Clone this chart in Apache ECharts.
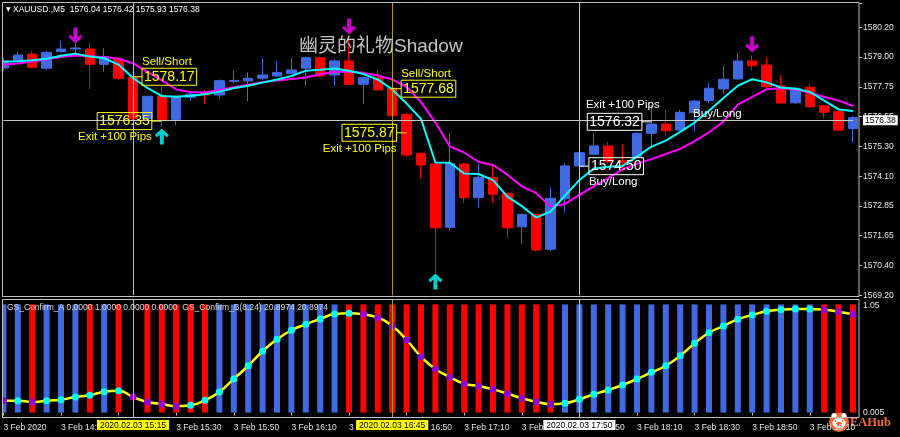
<!DOCTYPE html>
<html><head><meta charset="utf-8">
<style>html,body{margin:0;padding:0;background:#000}#c{width:900px;height:437px}</style>
<script src="https://cdn.jsdelivr.net/npm/echarts@6/dist/echarts.min.js"></script>
</head><body><div id="c"></div>
<script>
// ---------- data ----------
const times = ['14:30','14:35','14:40','14:45','14:50','14:55','15:00','15:05','15:10','15:15',
  '15:20','15:25','15:30','15:35','15:40','15:45','15:50','15:55','16:00','16:05',
  '16:10','16:15','16:20','16:25','16:30','16:35','16:40','16:45','16:50','16:55',
  '17:00','17:05','17:10','17:15','17:20','17:25','17:30','17:35','17:40','17:45',
  '17:50','17:55','18:00','18:05','18:10','18:15','18:20','18:25','18:30','18:35',
  '18:40','18:45','18:50','18:55','19:00','19:05','19:10','19:15','19:20','19:25'];
const dateStr = '2020.02.03';
const xTickLabels = ['3 Feb 2020','3 Feb 14:50','3 Feb 15:10','3 Feb 15:30','3 Feb 15:50','3 Feb 16:10',
  '3 Feb 16:30','3 Feb 16:50','3 Feb 17:10','3 Feb 17:30','3 Feb 17:50','3 Feb 18:10','3 Feb 18:30',
  '3 Feb 18:50','3 Feb 19:10'];
const priceTickLabels = ['1569.20','1570.40','1571.65','1572.85','1574.10','1575.30','1576.55','1577.75','1579.00','1580.20'];
const candleOpen = [1578.53,1578.82,1579.10,1578.52,1579.20,1579.31,1579.31,1578.68,1578.89,1578.15,
  1576.46,1577.37,1576.42,1577.33,1577.47,1577.42,1577.98,1578.00,1578.11,1578.20,
  1578.31,1578.52,1578.95,1578.24,1578.82,1577.86,1578.13,1577.70,1576.63,1575.03,
  1574.59,1571.99,1574.59,1573.21,1574.04,1573.39,1572.01,1572.52,1571.09,1573.16,
  1574.51,1574.99,1575.33,1574.72,1574.89,1575.85,1576.23,1575.98,1576.69,1577.19,
  1577.67,1578.08,1578.82,1578.65,1577.79,1577.10,1577.74,1576.98,1576.74,1576.04];
const candleClose = [1578.82,1579.06,1578.56,1579.17,1579.31,1579.35,1578.68,1579.00,1578.11,1576.45,
  1577.37,1576.42,1577.35,1577.46,1577.43,1578.01,1578.02,1578.11,1578.24,1578.34,
  1578.45,1578.95,1578.20,1578.82,1577.86,1578.13,1577.63,1576.57,1574.96,1574.55,
  1571.97,1574.61,1573.21,1574.04,1573.35,1571.97,1572.52,1571.06,1573.18,1574.51,
  1575.05,1575.33,1574.68,1574.66,1575.85,1576.23,1575.95,1576.71,1577.17,1577.70,
  1578.07,1578.82,1578.62,1577.76,1577.10,1577.70,1576.94,1576.71,1575.98,1576.50];
const candleLow = [1578.40,1578.73,1578.52,1578.45,1579.16,1579.13,1577.67,1578.38,1578.05,1576.40,
  1576.40,1576.12,1576.19,1577.20,1577.05,1577.25,1577.90,1577.17,1578.04,1578.15,
  1578.28,1577.79,1578.15,1577.79,1577.83,1577.05,1577.60,1576.55,1574.90,1574.00,
  1570.10,1571.85,1572.98,1572.81,1573.00,1571.54,1571.33,1571.00,1571.02,1572.61,
  1574.45,1574.95,1574.60,1574.30,1574.85,1575.30,1575.71,1575.95,1575.92,1577.10,
  1577.49,1578.05,1578.42,1577.70,1577.05,1577.05,1576.90,1576.47,1575.95,1575.46];
const candleHigh = [1578.95,1579.20,1579.24,1579.24,1579.65,1579.54,1579.57,1579.34,1578.97,1578.20,
  1577.40,1577.76,1577.40,1577.55,1577.63,1578.05,1578.42,1578.34,1578.93,1578.82,
  1578.93,1579.00,1579.00,1578.88,1579.70,1578.18,1578.45,1577.72,1576.66,1575.06,
  1574.65,1575.85,1574.62,1574.60,1574.62,1573.42,1572.55,1572.55,1573.63,1574.60,
  1575.10,1575.85,1575.50,1575.40,1575.90,1577.01,1576.81,1576.81,1577.22,1577.90,
  1578.62,1579.13,1579.05,1578.97,1578.24,1577.75,1577.90,1577.02,1576.78,1576.56];
const maFast = [1578.79,1578.81,1578.85,1578.91,1579.03,1579.12,1579.00,1578.93,1578.67,1578.12,
  1577.71,1577.38,1577.35,1577.39,1577.45,1577.56,1577.70,1577.80,1577.93,1578.06,
  1578.20,1578.42,1578.46,1578.51,1578.42,1578.28,1578.06,1577.65,1577.07,1576.44,
  1574.65,1574.64,1574.20,1574.18,1573.93,1573.25,1572.86,1572.39,1572.64,1573.29,
  1573.93,1574.40,1574.48,1574.51,1574.89,1575.30,1575.55,1575.91,1576.29,1576.78,
  1577.30,1577.80,1578.07,1577.94,1577.73,1577.68,1577.55,1577.19,1576.83,1576.76];
const maSlow = [1578.66,1578.71,1578.80,1578.89,1578.98,1579.04,1579.02,1578.97,1578.91,1578.72,
  1578.37,1578.02,1577.65,1577.54,1577.52,1577.63,1577.74,1577.84,1577.95,1578.02,
  1578.08,1578.14,1578.27,1578.38,1578.38,1578.33,1578.22,1578.06,1577.75,1577.13,
  1576.29,1575.31,1575.06,1574.67,1574.55,1574.15,1573.67,1573.39,1572.84,1572.95,
  1573.32,1573.67,1574.01,1574.38,1574.60,1574.79,1575.00,1575.21,1575.53,1575.89,
  1576.33,1577.03,1577.34,1577.66,1577.70,1577.65,1577.52,1577.34,1577.19,1576.97];
const lastPrice = 1576.38;
const headerOHLC = ['1576.04','1576.42','1575.93','1576.38'];
// trade signals
const sellEntryIdx = [9, 27];  const sellEntryPrice = [1578.17, 1577.68];
const sellExitIdx = [11, 28];  const sellExitPrice = [1576.35, 1575.87];
const buyEntryIdx = [40];      const buyEntryPrice = [1574.50];
const buyExitIdx = [45];       const buyExitPrice = [1576.32];
const buyTextIdx = [48];       const buyTextPrice = [1576.64];
const downArrowIdx = [5, 24, 52]; const downArrowPrice = [1579.86, 1580.23, 1579.49];
const upArrowIdx = [11, 30];      const upArrowPrice = [1575.72, 1569.77];
const vlineIdx = [9, 27, 40];
// indicator: GS_Confirm_A histogram (1 blue, -1 red, 0 none) and GS_Confirm_B line
const histState = [1,1,-1,1,1,1,-1,1,-1,0,
  -1,-1,-1,-1,-1,1,1,1,1,1,
  1,1,1,1,-1,-1,-1,-1,-1,-1,
  -1,-1,-1,-1,-1,-1,-1,-1,-1,1,
  1,1,1,1,1,1,1,1,1,1,
  1,1,1,1,1,1,1,-1,-1,-1];
const confirmB = [0.110,0.110,0.098,0.110,0.119,0.144,0.160,0.193,0.202,0.144,
  0.098,0.079,0.058,0.067,0.114,0.190,0.311,0.433,0.567,0.677,
  0.761,0.816,0.865,0.911,0.918,0.908,0.877,0.800,0.671,0.517,
  0.403,0.329,0.267,0.246,0.215,0.175,0.132,0.101,0.077,0.086,
  0.123,0.169,0.209,0.255,0.311,0.372,0.433,0.526,0.640,0.738,
  0.800,0.862,0.902,0.936,0.951,0.957,0.957,0.951,0.933,0.909];
const confirmDir = [0,1,0,1,1,1,1,1,1,0,
  0,0,0,1,1,1,1,1,1,1,
  1,1,1,1,1,0,0,0,0,0,
  0,0,0,0,0,0,0,0,0,1,
  1,1,1,1,1,1,1,1,1,1,
  1,1,1,1,1,1,1,0,0,0];

// ---------- chart ----------
const FONT = '"Liberation Sans", Arial, sans-serif';
const BLUE = '#4169e1', RED = '#ff0000';
const YMIN = 1569.2, YMAX = 1581.2, YINT = 11 / 9;
const candleData = candleOpen.map((o, i) => [o, candleClose[i], candleLow[i], candleHigh[i]]);

const annoData = [].concat(
  sellEntryIdx.map((ix, k) => [ix, sellEntryPrice[k], 0]),
  sellExitIdx.map((ix, k) => [ix, sellExitPrice[k], 1]),
  buyEntryIdx.map((ix, k) => [ix, buyEntryPrice[k], 2]),
  buyExitIdx.map((ix, k) => [ix, buyExitPrice[k], 3]),
  buyTextIdx.map((ix, k) => [ix, buyTextPrice[k], 4])
);

function renderAnno(params, api) {
  const kind = api.value(2), price = api.value(1);
  const p = api.coord([api.value(0), price]);
  const col = kind < 2 ? '#ffff00' : '#ffffff';
  const txt = price.toFixed(2);
  const small = '11.5px ' + FONT, big = '14px ' + FONT;
  const box = (x, align) => ({type: 'text', style: {text: txt, x: x, y: p[1], align: align, verticalAlign: 'middle',
    fill: col, font: big, borderColor: col, borderWidth: 1, padding: [1, 2, 0, 2], lineHeight: 16}});
  const seg = (x1, x2) => ({type: 'line', shape: {x1: x1, y1: p[1], x2: x2, y2: p[1]}, style: {stroke: col, lineWidth: 1}});
  const lab = (t, x, y, align) => ({type: 'text', style: {text: t, x: x, y: y, align: align, verticalAlign: 'middle', fill: col, font: small}});
  let ch = [];
  if (kind === 0) ch = [seg(p[0], p[0] + 9), box(p[0] + 9, 'left'), lab('Sell/Short', p[0] + 9, p[1] - 15, 'left')];
  else if (kind === 1) ch = [seg(p[0] - 10, p[0]), box(p[0] - 10, 'right'), lab('Exit +100 Pips', p[0] - 10, p[1] + 16, 'right')];
  else if (kind === 2) ch = [seg(p[0], p[0] + 9.5), box(p[0] + 9.5, 'left'), lab('Buy/Long', p[0] + 9.5, p[1] + 15.5, 'left')];
  else if (kind === 3) ch = [seg(p[0] - 9.5, p[0]), box(p[0] - 9.5, 'right'), lab('Exit +100 Pips', p[0] - 65.5, p[1] - 17, 'left')];
  else ch = [lab('Buy/Long', p[0] - 1.5, p[1], 'left')];
  return {type: 'group', children: ch};
}

const vColors = ['#d6d600', '#b09c00', '#c8c8c8'];
const vBoxBg = ['#ffff00', '#ffff00', '#ffffff'];
// grid spans first..last bar centre (category axis without boundary gap)
const GL = 3.4, GR = 900 - 853;

const option = {
  backgroundColor: '#000000',
  animation: false,
  title: [
    {left: 6, top: 5, padding: 0, text: '{tri|▼} XAUUSD.,M5  ' + headerOHLC.join(' '),
      textStyle: {color: '#ffffff', fontSize: 8.5, fontWeight: 'normal', fontFamily: FONT,
        rich: {tri: {fontFamily: '"DejaVu Sans"', fontSize: 6, color: '#ffffff'}}}},
    {left: 7, top: 303, padding: 0, text: 'GS_Confirm_A 0.0000 1.0000 0.0000 0.0000  GS_Confirm_B(8,24) 20.8974 20.8974',
      textStyle: {color: '#dcdcdc', fontSize: 8.5, fontWeight: 'normal', fontFamily: FONT}},
    {left: 299, top: 37, padding: 0, text: '幽灵的礼物Shadow',
      textStyle: {color: '#c4c4c4', fontSize: 19, fontWeight: 'normal', fontFamily: '"Liberation Sans","Noto Sans CJK SC",sans-serif'}}
  ],
  grid: [
    {left: GL, right: GR, top: 2.94, bottom: 437 - 295.3},
    {left: GL, right: GR, top: 299, bottom: 19}
  ],
  xAxis: [
    {type: 'category', gridIndex: 0, data: times, boundaryGap: false,
      axisLine: {show: false}, axisTick: {show: false}, axisLabel: {show: false}, splitLine: {show: false}},
    {type: 'category', gridIndex: 1, data: times, boundaryGap: false,
      axisLine: {show: false},
      axisTick: {show: true, interval: 3, length: 3, lineStyle: {color: '#c0c0c0'}},
      axisLabel: {interval: 3, align: 'left', margin: 5, color: '#e6e6e6', fontSize: 8.5, fontFamily: FONT,
        formatter: (v, idx) => xTickLabels[Math.round(idx / 4)] || ''},
      splitLine: {show: false}}
  ],
  yAxis: [
    {type: 'value', gridIndex: 0, position: 'right', offset: 6, min: YMIN, max: YMAX, interval: YINT,
      axisLine: {show: false}, splitLine: {show: false},
      axisTick: {show: true, length: 3, lineStyle: {color: '#c0c0c0'}},
      axisLabel: {margin: 4, color: '#e6e6e6', fontSize: 8.5, fontFamily: FONT,
        formatter: v => {
          const k = Math.round((v - YMIN) / YINT);
          if (k < 0 || k > 9 || Math.abs(v - (YMIN + k * YINT)) > 1e-3) return '';
          return priceTickLabels[k];
        }}},
    {type: 'value', gridIndex: 1, position: 'right', offset: 6, min: -0.05, max: 1.05, interval: 1.1,
      axisLine: {show: false}, splitLine: {show: false},
      axisTick: {show: false},
      axisLabel: {margin: 4, color: '#e6e6e6', fontSize: 8.5, fontFamily: FONT,
        formatter: v => v > 0.5 ? '{hi|1.05}' : '{lo|0.005}',
        rich: {hi: {padding: [13, 0, 0, 0], fontSize: 8.5, fontFamily: FONT, color: '#e6e6e6'},
               lo: {padding: [0, 0, 11, 0], fontSize: 8.5, fontFamily: FONT, color: '#e6e6e6'}}}}
  ],
  series: [
    {type: 'candlestick', xAxisIndex: 0, yAxisIndex: 0, data: candleData, barWidth: 10, z: 2, clip: false,
      itemStyle: {color: BLUE, color0: RED, borderColor: BLUE, borderColor0: RED, borderWidth: 1},
      markLine: {silent: true, symbol: ['none', 'none'], animation: false,
        data: [
          {yAxis: lastPrice, lineStyle: {color: '#c8c8c8', width: 1, type: 'solid'},
            label: {show: true, position: 'end', distance: 10, formatter: lastPrice.toFixed(2),
              backgroundColor: '#ffffff', color: '#000000', padding: [1, 2, 0, 2], fontSize: 8.5, fontFamily: FONT}}
        ].concat(vlineIdx.map((ix, k) => ({xAxis: times[ix], lineStyle: {color: vColors[k], width: 1, type: 'solid'}, label: {show: false}})))
      }},
    {type: 'line', xAxisIndex: 0, yAxisIndex: 0, data: maSlow, symbol: 'none', z: 3,
      lineStyle: {color: '#ff00ff', width: 2}},
    {type: 'line', xAxisIndex: 0, yAxisIndex: 0, data: maFast, symbol: 'none', z: 4,
      lineStyle: {color: '#00ffff', width: 2}},
    {type: 'scatter', xAxisIndex: 0, yAxisIndex: 0, z: 5,
      symbol: 'path://M5,0 L9,0 L9,10 L12,7 L14,9.5 L7,16 L0,9.5 L2,7 L5,10 Z', symbolSize: [14, 16],
      itemStyle: {color: '#ff00ff'},
      data: downArrowIdx.map((ix, k) => [ix, downArrowPrice[k]])},
    {type: 'scatter', xAxisIndex: 0, yAxisIndex: 0, z: 5,
      symbol: 'path://M5,16 L9,16 L9,6 L12,9 L14,6.5 L7,0 L0,6.5 L2,9 L5,6 Z', symbolSize: [14, 16],
      itemStyle: {color: '#00ffff'},
      data: upArrowIdx.map((ix, k) => [ix, upArrowPrice[k]])},
    {type: 'custom', xAxisIndex: 0, yAxisIndex: 0, z: 6, clip: false,
      encode: {x: 0, y: 1}, renderItem: renderAnno, data: annoData},
    {type: 'bar', xAxisIndex: 1, yAxisIndex: 1, barWidth: 6, z: 2, clip: false,
      data: histState.map(s => s === 0 ? {value: 0, itemStyle: {color: 'rgba(0,0,0,0)'}} :
        {value: 1, itemStyle: {color: s > 0 ? BLUE : RED}}),
      markLine: {silent: true, symbol: ['none', 'none'], animation: false,
        data: vlineIdx.map((ix, k) => ({xAxis: times[ix], lineStyle: {color: vColors[k], width: 1, type: 'solid'},
          label: {show: true, position: 'start', distance: 2, formatter: dateStr + ' ' + times[ix],
            backgroundColor: vBoxBg[k], color: '#000000', padding: [1, 3, 0, 3], fontSize: 8.5, fontFamily: FONT}}))}},
    {type: 'line', xAxisIndex: 1, yAxisIndex: 1, z: 4, smooth: true, showAllSymbol: true, clip: false,
      symbol: 'circle', symbolSize: 7,
      lineStyle: {color: '#ffff00', width: 2.5},
      data: confirmB.map((v, i) => ({value: v, itemStyle: {color: confirmDir[i] ? '#00ffff' : '#9400d3', borderWidth: 0}}))}
  ],
  graphic: [
    {type: 'rect', z: 100, shape: {x: 0, y: 0, width: 2.5, height: 437}, style: {fill: '#000000'}},
    {type: 'rect', z: 101, shape: {x: 2.5, y: 2.5, width: 856.5, height: 294}, style: {fill: 'none', stroke: '#c0c0c0', lineWidth: 1}},
    {type: 'rect', z: 101, shape: {x: 2.5, y: 299.5, width: 856.5, height: 118}, style: {fill: 'none', stroke: '#c0c0c0', lineWidth: 1}},
    {type: 'group', z: 102, children: [
      {type: 'circle', shape: {cx: 839, cy: 422, r: 10}, style: {fill: '#f26a3a'}},
      {type: 'circle', shape: {cx: 834, cy: 415.5, r: 2.5}, style: {fill: '#ffffff'}},
      {type: 'circle', shape: {cx: 844, cy: 415.5, r: 2.5}, style: {fill: '#ffffff'}},
      {type: 'ellipse', shape: {cx: 839, cy: 423, rx: 6.5, ry: 5}, style: {fill: '#ffffff'}},
      {type: 'ellipse', shape: {cx: 839, cy: 424, rx: 3.2, ry: 2.2}, style: {fill: '#f26a3a'}},
      {type: 'circle', shape: {cx: 835.5, cy: 421, r: 0.9}, style: {fill: '#f26a3a'}},
      {type: 'circle', shape: {cx: 842.5, cy: 421, r: 0.9}, style: {fill: '#f26a3a'}},
      {type: 'text', style: {text: 'EAHub', x: 850, y: 423, verticalAlign: 'middle', fill: '#f06a38',
        font: 'bold 12.5px "Liberation Serif", serif'}}
    ]}
  ]
};
const chart = echarts.init(document.getElementById('c'));
chart.setOption(option);
</script></body></html>
